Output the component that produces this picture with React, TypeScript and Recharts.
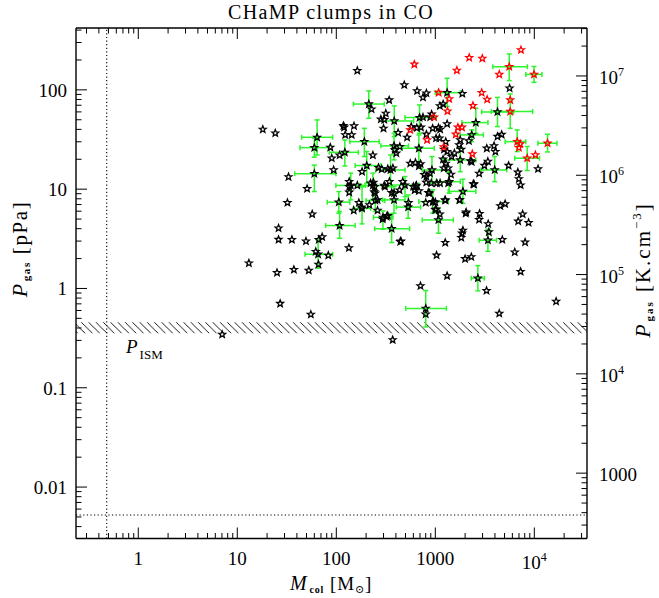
import React from 'react';
import { ScatterChart, Scatter, XAxis, YAxis, ErrorBar, ReferenceLine, ReferenceArea } from 'recharts';

// ---- axis ranges & tick labels ----
const X_DOMAIN: [number, number] = [0.235, 34040];
const Y_DOMAIN: [number, number] = [0.003034, 419.8];
const K_PER_PPA = 72429; // 1 pPa expressed in K cm^-3
const Y2_DOMAIN: [number, number] = [Y_DOMAIN[0] * K_PER_PPA, Y_DOMAIN[1] * K_PER_PPA];

const xTickLabels: Record<string, string> = { '1': '1', '10': '10', '100': '100', '1000': '1000', '10000': '10^4' };
const yTickLabels: Record<string, string> = { '0.01': '0.01', '0.1': '0.1', '1': '1', '10': '10', '100': '100' };
const y2TickLabels: Record<string, string> = { '1000': '1000', '10000': '10^4', '100000': '10^5', '1000000': '10^6', '10000000': '10^7' };

const P_ISM_LOW = 0.353;
const P_ISM_HIGH = 0.458;
const M_LIMIT = 0.48;
const P_LIMIT = 0.00524;

// ---- data: [M_col (Msun), P_gas (pPa)] ----
const blackClumps: [number, number][] = [
  [163, 156], [18.1, 40], [24.2, 36.6], [32.9, 13.3], [50.7, 10.1], [32.1, 7.3], [57.1, 5.6], [26.1, 4.05],
  [26.1, 3.11], [35.6, 3.1], [49.4, 2.99], [66.5, 3.1], [72, 3.3], [134, 2.56], [62, 2.35], [83, 2.15],
  [66, 1.75], [13.1, 1.8], [25.2, 1.44], [37.3, 1.55], [52.7, 1.52], [27.1, 0.705], [55.3, 0.547], [7.04, 0.344],
  [371, 0.304], [708, 1.06], [800, 0.55], [1030, 2.16], [1316, 1.34], [1260, 2.9], [449, 3.0], [3290, 0.95],
  [4425, 0.56], [16600, 0.74], [7270, 1.48], [6340, 2.32], [8070, 2.92], [4750, 3.1], [2000, 1.99], [2310, 2.08],
  [1860, 3.6], [1900, 3.85], [1830, 3.25], [3470, 3.7], [3420, 4.47], [2770, 4.94], [2800, 5.68], [2050, 5.86],
  [6870, 4.75], [7620, 5.6], [8750, 4.6], [4530, 6.8], [5070, 7.1], [2460, 11.2], [1770, 7.8], [1265, 7.7],
  [1000, 7.4], [800, 7.3], [1110, 5.6], [1019, 6.3], [2030, 5.7], [2420, 11.3],
  [294, 5.0], [331, 5.4], [150, 6.1], [169, 7.3], [216, 6.95], [261, 6.1], [180, 6.6], [383, 9.1],
  [435, 9.8], [536, 7.3], [631, 10.6], [644, 10.9], [619, 9.8], [682, 9.6], [600, 10.6], [810, 11.7],
  [910, 11.5], [1035, 11.5], [1117, 11.5], [1350, 11.5], [875, 9.1], [850, 9.2], [955, 7.5], [1253, 7.8],
  [1750, 7.8], [135, 11.9], [135, 10.6], [163, 10.9], [135, 9.3], [222, 11.5], [237, 11.7], [244, 10.6],
  [246, 9.1], [261, 7.8], [305, 10.9], [344, 11.9], [310, 10.6], [363, 9.2], [469, 11.9], [242, 9.4],
  [323, 5.3], [443, 2.96], [1000, 6.2],
  [486, 112], [655, 97.5], [813, 92.5], [751, 84], [1875, 91.6], [5625, 104], [342, 79], [1112, 69],
  [1200, 72], [227, 64], [316, 58], [282, 50.6], [305, 50], [300, 41], [751, 53], [889, 53],
  [918, 56.8], [571, 42.6], [650, 41.5], [716, 42], [940, 41], [1076, 41.5], [1120, 40], [1316, 45.4],
  [519, 33.3], [421, 37], [813, 35.7], [1100, 32.6], [1018, 32.6], [1274, 30.1], [1225, 25.2], [1316, 23.9],
  [1462, 21.3], [1560, 23], [1786, 31.3], [1742, 27.9], [1828, 25.2], [2183, 30.6], [2270, 19.3], [2330, 18.8],
  [2773, 14.4], [3130, 17.3], [3395, 19], [3310, 25.8], [3920, 27.3], [4045, 23.9], [4245, 33.9], [4680, 35.5],
  [5500, 17.3], [6820, 14.8], [6980, 12.7], [7270, 11], [10900, 16],
  [120, 42], [151, 43.3], [143, 35.2], [123, 35.2], [118, 43.5], [87, 26.4], [90, 20.5], [94, 15.6],
  [108, 22], [234, 22], [182, 15], [267, 16.5], [331, 16], [373, 16.3], [404, 23], [438, 26.8],
  [389, 24.8], [558, 18.2], [630, 18.5], [682, 17.1], [710, 18], [813, 13.4], [881, 14.5], [774, 14],
  [1197, 20], [1274, 18.2], [1216, 16.3], [1439, 14.1], [1350, 16.3], [288, 15.9],
];

const redClumps: [number, number][] = [
  [7330, 252], [614, 181], [2200, 211], [2985, 207], [1650, 157], [4425, 143], [1080, 94], [2940, 93.8],
  [3340, 80], [2400, 69.5], [1380, 81], [1327, 61], [970, 53], [5710, 79], [558, 39.5], [1690, 42],
  [1860, 42], [1610, 35.7], [826, 31.3], [1216, 26.6], [2365, 22.6], [6980, 26.2], [7200, 28.5], [10260, 22.1],
];

// [M, P, M_low, M_high, P_low, P_high]
const blackErrClumps: number[][] = [
  [800, 0.63, 502, 1294, 0.41, 0.953], [2690, 1.27, 2307, 3130, 0.946, 1.7], [3400, 3.06, 2770, 4150, 2.36, 3.95],
  [65.5, 2.21, 48.3, 91.8, 1.6, 3.08], [108, 4.3, 78, 155, 3.2, 5.96], [106, 7.4, 81, 137, 5.73, 9.46],
  [362, 4.0, 244, 550, 2.9, 5.64], [296, 5.2, 237, 373, 3.95, 6.04], [532, 6.6, 404, 710, 5.1, 8.75],
  [1076, 4.9, 738, 1520, 3.6, 6.43], [182, 6.4, 149, 222, 4.47, 10.6], [940, 7.5, 682, 1350, 5.73, 9.84],
  [383, 7.8, 294, 494, 5.73, 10.6], [248, 7.7, 200, 309, 5.96, 9.84], [1900, 9.5, 1350, 2565, 7.2, 12.6],
  [1380, 11.9, 1018, 1786, 9.1, 15], [140, 10.9, 99, 197, 7.8, 14.5], [234, 10.9, 174, 331, 7.8, 14.5],
  [494, 11, 359, 682, 8.4, 13.4], [60, 14.3, 38, 99, 9.46, 17.5], [925, 15.6, 738, 1294, 11.5, 21.3],
  [3980, 15.6, 2890, 5270, 11.9, 21.3], [203, 17.3, 155, 282, 11.5, 23.9], [353, 15.6, 250, 494, 10.6, 22.1],
  [1786, 19.7, 1197, 2565, 15, 25.8], [122, 23.5, 85, 167, 17.1, 31.3], [60, 26.2, 43, 85, 21, 32.6],
  [64, 33.3, 44.6, 91.8, 22.1, 49.8], [192, 30.1, 137, 271, 21.3, 41], [383, 27.3, 282, 536, 19.7, 36.6],
  [682, 25.8, 456, 977, 19, 35.2], [385, 48.6, 294, 604, 33.9, 68.9], [693, 52.6, 494, 1018, 36.6, 70.5],
  [213, 72, 149, 305, 51.8, 97.5], [1316, 93.8, 1000, 1786, 68, 131], [2565, 46.8, 1860, 3400, 36.6, 65.3],
  [4245, 60, 2940, 6190, 42.7, 84], [2330, 35.2, 1775, 3055, 30.1, 39.5],
];

const redErrClumps: number[][] = [
  [8470, 20.5, 6340, 11300, 15.4, 26.9], [5710, 60.5, 3670, 9620, 41, 91], [5580, 171, 3810, 8510, 124, 230],
  [9930, 143, 8200, 11940, 119, 172], [13600, 29, 10870, 16900, 23.7, 35.7], [6710, 30.1, 5070, 8200, 23.9, 39.5],
];

// ---- helpers ----
const toPts = (arr: [number, number][]) => arr.map(([m, p]) => ({ m, p }));
const toErr = (arr: number[][]) =>
  arr.map(([m, p, ml, mh, pl, ph]) => ({ m, p, ex: [m - ml, mh - m], ey: [p - pl, ph - p] }));

function logTicks(lo: number, hi: number): number[] {
  const out: number[] = [];
  for (let e = -4; e <= 8; e++) {
    for (let k = 1; k <= 9; k++) {
      const v = Number((k * Math.pow(10, e)).toPrecision(3));
      if (v >= lo && v <= hi) out.push(v);
    }
  }
  return out;
}
const isMajor = (v: number) => Math.abs(Math.log10(v) - Math.round(Math.log10(v))) < 1e-6;
const keyOf = (v: number) => String(Math.round(v * 1000) / 1000);

const MAJOR = 11;
const MINOR = 5.5;
const FONT = "'Liberation Serif', 'DejaVu Serif', serif";
const AXIS_FS = 19;

function starD(cx: number, cy: number, R = 3.6, r = 1.55) {
  let d = '';
  for (let i = 0; i < 10; i++) {
    const a = -Math.PI / 2 + (i * Math.PI) / 5;
    const rad = i % 2 === 0 ? R : r;
    d += (i === 0 ? 'M' : 'L') + (cx + rad * Math.cos(a)).toFixed(2) + ',' + (cy + rad * Math.sin(a)).toFixed(2);
  }
  return d + 'Z';
}
const makeStar = (color: string) => (props: any) => {
  const { cx, cy } = props;
  if (cx == null || cy == null) return <g />;
  return <path d={starD(cx, cy)} fill="none" stroke={color} strokeWidth={1.3} strokeLinejoin="miter" />;
};

const renderPow = (label: string, x: number, y: number, anchor: 'start' | 'middle' | 'end') => {
  if (label.startsWith('10^')) {
    return (
      <text x={x} y={y} textAnchor={anchor} fontFamily={FONT} fontSize={AXIS_FS} fill="#000">
        10<tspan dy={-8} fontSize={12}>{label.slice(3)}</tspan>
      </text>
    );
  }
  return (
    <text x={x} y={y} textAnchor={anchor} fontFamily={FONT} fontSize={AXIS_FS} fill="#000">
      {label}
    </text>
  );
};

const BottomTick = (props: any) => {
  const { x, y, payload } = props;
  const v = payload.value;
  const major = isMajor(v);
  const lab = xTickLabels[keyOf(v)];
  return (
    <g>
      <line x1={x} x2={x} y1={y} y2={y - (major ? MAJOR : MINOR)} stroke="#000" strokeWidth={1} />
      {major && lab ? renderPow(lab, x, y + (lab.startsWith('10^') ? 30 : 26), 'middle') : null}
    </g>
  );
};
const TopTick = (props: any) => {
  const { x, y, payload } = props;
  const major = isMajor(payload.value);
  return <line x1={x} x2={x} y1={y} y2={y + (major ? MAJOR : MINOR)} stroke="#000" strokeWidth={1} />;
};
const LeftTick = (props: any) => {
  const { x, y, payload } = props;
  const v = payload.value;
  const major = isMajor(v);
  const lab = yTickLabels[keyOf(v)];
  return (
    <g>
      <line x1={x} x2={x + (major ? MAJOR : MINOR)} y1={y} y2={y} stroke="#000" strokeWidth={1} />
      {major && lab ? renderPow(lab, x - 9, y + 7, 'end') : null}
    </g>
  );
};
const RightTick = (props: any) => {
  const { x, y, payload } = props;
  const v = payload.value;
  const major = isMajor(v);
  const lab = y2TickLabels[String(Math.round(v))];
  return (
    <g>
      <line x1={x} x2={x - (major ? MAJOR : MINOR)} y1={y} y2={y} stroke="#000" strokeWidth={1} />
      {major && lab ? renderPow(lab, x + 12, y + 8, 'start') : null}
    </g>
  );
};

const GREEN = '#2cf52c';

export default function App() {
  const black = toPts(blackClumps);
  const red = toPts(redClumps);
  const blackErr = toErr(blackErrClumps);
  const redErr = toErr(redErrClumps);
  const xTicks = logTicks(X_DOMAIN[0], X_DOMAIN[1]);
  const yTicks = logTicks(Y_DOMAIN[0], Y_DOMAIN[1]);
  const y2Ticks = logTicks(Y2_DOMAIN[0], Y2_DOMAIN[1]);
  const axisLine = { stroke: '#000', strokeWidth: 1.4 };

  return (
    <div style={{ position: 'absolute', left: 0, top: 0, width: 659, height: 598, background: '#fff' }}>
      <svg width={659} height={598} style={{ position: 'absolute', left: 0, top: 0, pointerEvents: 'none', zIndex: 2 }}>
        <defs>
          <pattern id="hatch" patternUnits="userSpaceOnUse" width={7.3} height={7.3}>
            <path d="M-1,-1 L8.3,8.3 M-1,6.3 L1,8.3 M6.3,-1 L8.3,1" stroke="#000" strokeWidth={0.9} />
          </pattern>
        </defs>
        <text x={331} y={19} textAnchor="middle" fontFamily={FONT} fontSize={20} letterSpacing={1.4} fill="#000">
          CHaMP clumps in CO
        </text>
        <text x={331} y={590} textAnchor="middle" fontFamily={FONT} fontSize={19} fill="#000" letterSpacing={0.8}>
          <tspan fontStyle="italic" fontSize={20}>M</tspan>
          <tspan fontSize={10} fontWeight="bold" dy={3} dx={2}>col</tspan>
          <tspan dy={-3} dx={6}>[M</tspan>
          <tspan fontSize={11} dy={3}>⊙</tspan>
          <tspan dy={-3}>]</tspan>
        </text>
        <text x={27} y={249} textAnchor="middle" fontFamily={FONT} fontSize={21} fill="#000" letterSpacing={1.6} transform="rotate(-90, 27, 249)">
          <tspan fontStyle="italic" fontSize={22}>P</tspan>
          <tspan fontSize={11} fontWeight="bold" dy={3} dx={1}>gas</tspan>
          <tspan dy={-3} dx={7}>[pPa]</tspan>
        </text>
        <text x={650} y={270} textAnchor="middle" fontFamily={FONT} fontSize={21} fill="#000" letterSpacing={2} transform="rotate(-90, 650, 270)">
          <tspan fontStyle="italic" fontSize={22}>P</tspan>
          <tspan fontSize={11} fontWeight="bold" dy={3} dx={1}>gas</tspan>
          <tspan dy={-3} dx={8}>[K.cm</tspan>
          <tspan fontSize={13} dy={-9}>−3</tspan>
          <tspan dy={9}>]</tspan>
        </text>
        <text x={126} y={353} fontFamily={FONT} fontSize={19} fill="#000">
          <tspan fontStyle="italic">P</tspan>
          <tspan fontSize={13} dy={6} dx={2}>ISM</tspan>
        </text>
      </svg>
      <ScatterChart width={659} height={598} margin={{ top: 0, right: 0, bottom: 0, left: 0 }}>
        <XAxis
          xAxisId={0}
          dataKey="m"
          type="number"
          scale="log"
          domain={X_DOMAIN}
          allowDataOverflow
          ticks={xTicks}
          interval={0}
          height={59.5}
          tickSize={0}
          tickMargin={0}
          tickLine={false}
          axisLine={axisLine}
          tick={<BottomTick />}
        />
        <XAxis
          xAxisId="top"
          orientation="top"
          dataKey="m"
          type="number"
          scale="log"
          domain={X_DOMAIN}
          allowDataOverflow
          ticks={xTicks}
          interval={0}
          height={28}
          tickSize={0}
          tickMargin={0}
          tickLine={false}
          axisLine={axisLine}
          tick={<TopTick />}
        />
        <YAxis
          yAxisId={0}
          dataKey="p"
          type="number"
          scale="log"
          domain={Y_DOMAIN}
          allowDataOverflow
          ticks={yTicks}
          interval={0}
          width={76}
          tickSize={0}
          tickMargin={0}
          tickLine={false}
          axisLine={axisLine}
          tick={<LeftTick />}
        />
        <YAxis
          yAxisId="right"
          orientation="right"
          dataKey="p"
          type="number"
          scale="log"
          domain={Y2_DOMAIN}
          allowDataOverflow
          ticks={y2Ticks}
          interval={0}
          width={72}
          tickSize={0}
          tickMargin={0}
          tickLine={false}
          axisLine={axisLine}
          tick={<RightTick />}
        />
        <ReferenceArea xAxisId={0} yAxisId={0} y1={P_ISM_LOW} y2={P_ISM_HIGH} fill="url(#hatch)" fillOpacity={1} stroke="none" />
        <ReferenceLine xAxisId={0} yAxisId={0} x={M_LIMIT} stroke="#000" strokeWidth={1.1} strokeDasharray="1.2 2.4" />
        <ReferenceLine xAxisId={0} yAxisId={0} y={P_LIMIT} stroke="#000" strokeWidth={1.1} strokeDasharray="1.2 2.4" />
        <Scatter xAxisId={0} yAxisId={0} data={black} shape={makeStar('#000')} isAnimationActive={false} />
        <Scatter xAxisId={0} yAxisId={0} data={blackErr} shape={makeStar('#000')} isAnimationActive={false}>
          <ErrorBar dataKey="ex" direction="x" stroke={GREEN} strokeWidth={1.5} width={2.5} isAnimationActive={false} />
          <ErrorBar dataKey="ey" direction="y" stroke={GREEN} strokeWidth={1.5} width={2.5} isAnimationActive={false} />
        </Scatter>
        <Scatter xAxisId={0} yAxisId={0} data={red} shape={makeStar('#ff0000')} isAnimationActive={false} />
        <Scatter xAxisId={0} yAxisId={0} data={redErr} shape={makeStar('#ff0000')} isAnimationActive={false}>
          <ErrorBar dataKey="ex" direction="x" stroke={GREEN} strokeWidth={1.5} width={2.5} isAnimationActive={false} />
          <ErrorBar dataKey="ey" direction="y" stroke={GREEN} strokeWidth={1.5} width={2.5} isAnimationActive={false} />
        </Scatter>
      </ScatterChart>
    </div>
  );
}
